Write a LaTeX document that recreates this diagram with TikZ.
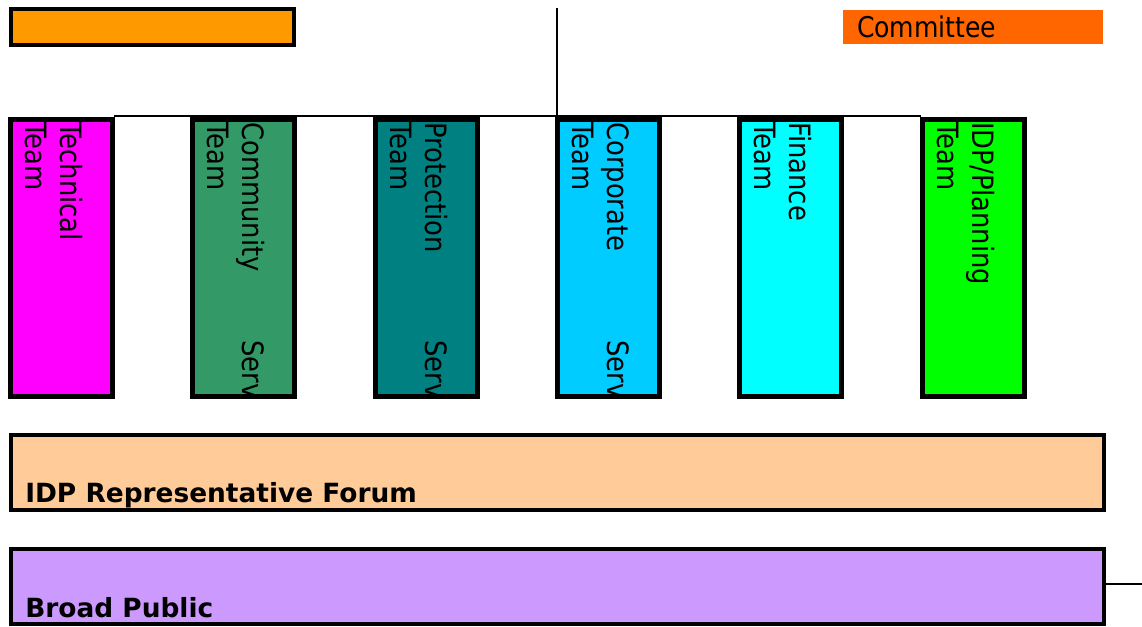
\documentclass[tikz,border=0pt]{standalone}
\usepackage{fontspec}
\setmainfont{DejaVu Sans}[FakeStretch=0.88]
\newfontfamily\boldlabel{DejaVu Sans Bold}
\definecolor{orangebar}{HTML}{FF9900}
\definecolor{committee}{HTML}{FF6600}
\definecolor{techc}{HTML}{FF00FF}
\definecolor{commc}{HTML}{339966}
\definecolor{protc}{HTML}{008080}
\definecolor{corpc}{HTML}{00CCFF}
\definecolor{finc}{HTML}{00FFFF}
\definecolor{planc}{HTML}{00FF00}
\definecolor{forumc}{HTML}{FFCC99}
\definecolor{publicc}{HTML}{CC99FF}
\begin{document}
\begin{tikzpicture}[x=0.75pt,y=-0.75pt,
  boxline/.style={draw=black,line width=2.5pt},
  colbox/.style={boxline,rectangle,inner sep=0pt,minimum width=75.75pt,minimum height=207pt},
  wide/.style={boxline,rectangle,inner sep=0pt,minimum width=819.75pt,minimum height=56.25pt},
  vtext/.style={rotate=-90,anchor=base west,inner sep=0pt,font=\fontsize{22pt}{26pt}\selectfont},
  btext/.style={anchor=base west,inner sep=0pt,font=\fontsize{19.8pt}{23pt}\boldlabel},
  conn/.style={draw=black,line width=1.6pt}
]
\useasboundingbox (0,0) rectangle (1142,626);

\coordinate (topend) at (557,8);
\coordinate (rightend) at (1142,584);

% top bars
\node[boxline,rectangle,inner sep=0pt,minimum width=212.25pt,minimum height=27pt,fill=orangebar] (bar) at (152.5,27) {};
\node[rectangle,fill=committee,minimum width=195pt,minimum height=25.5pt,inner xsep=10.5pt,inner ysep=0pt,text width=174pt,align=left,font=\fontsize{21.4pt}{25pt}\selectfont] (comm) at (973,27) {Committee};

% column boxes
\node[colbox,fill=techc] (tech) at (61.5,258) {};
\node[colbox,fill=commc] (commu) at (243.5,258) {};
\node[colbox,fill=protc] (prot) at (426.5,258) {};
\node[colbox,fill=corpc] (corp) at (608.5,258) {};
\node[colbox,fill=finc] (fin) at (790.5,258) {};
\node[colbox,fill=planc] (plan) at (973.5,258) {};

\draw[conn] ([yshift=1.5pt]tech.north east) -- ([yshift=1.5pt]plan.north west);
\draw[conn] (topend) -- (topend |- 0,118);

% column texts
\node[vtext] (t1) at (60,122) {Technical};
\node[vtext] (t2) at (25,122) {Team};

\node[vtext] (c1) at (242,122) {Community};
\node[vtext] (c2) at (207,122) {Team};
\begin{scope}
  \clip (commu.north west) rectangle (commu.south east);
  \node[vtext] (c3) at (242,340) {Services};
\end{scope}

\node[vtext] (p1) at (425,122) {Protection};
\node[vtext] (p2) at (390,122) {Team};
\begin{scope}
  \clip (prot.north west) rectangle (prot.south east);
  \node[vtext] (p3) at (425,340) {Services};
\end{scope}

\node[vtext] (k1) at (607,122) {Corporate};
\node[vtext] (k2) at (572,122) {Team};
\begin{scope}
  \clip (corp.north west) rectangle (corp.south east);
  \node[vtext] (k3) at (607,340) {Services};
\end{scope}

\node[vtext] (f1) at (789,122) {Finance};
\node[vtext] (f2) at (754,122) {Team};

\node[vtext] (i1) at (972,122) {IDP/Planning};
\node[vtext] (i2) at (937,122) {Team};

% redraw column borders above clipped text
\foreach \b in {tech,commu,prot,corp,fin,plan}{
  \draw[boxline] (\b.north west) rectangle (\b.south east);
}

% bottom boxes
\node[wide,fill=forumc] (forum) at (557.5,472.5) {};
\node[btext] (forumtxt) at (25,502) {IDP Representative Forum};
\node[wide,fill=publicc] (public) at (557.5,586.5) {};
\node[btext] (publictxt) at (25,617) {Broad Public};
\draw[conn] (public.east |- rightend) -- (rightend);
\end{tikzpicture}
\end{document}
